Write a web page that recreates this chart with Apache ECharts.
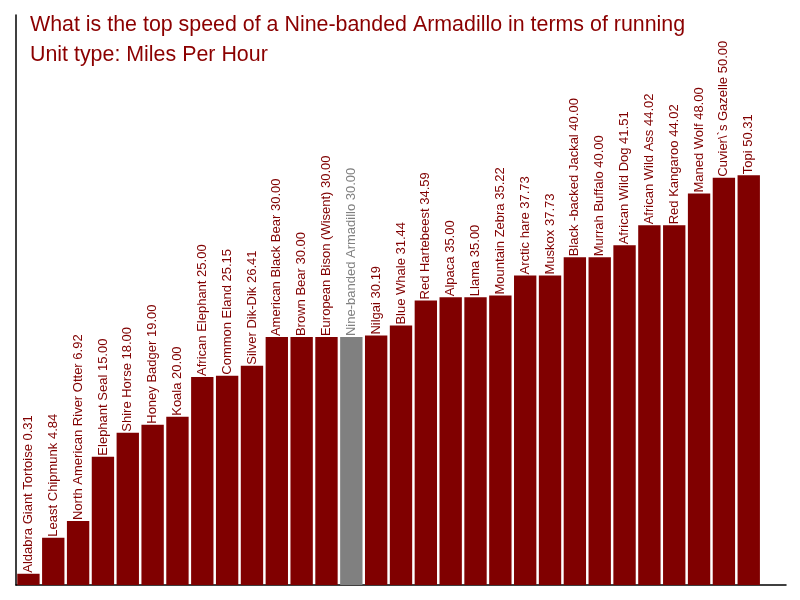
<!DOCTYPE html>
<html>
<head>
<meta charset="utf-8">
<script src="https://cdn.jsdelivr.net/npm/echarts@6/dist/echarts.min.js"></script>
<style>
  html, body { margin: 0; padding: 0; background: #fff; }
  #chart { width: 800px; height: 600px; }
</style>
</head>
<body>
<div id="chart"></div>
<script>
// animals, in the order they are drawn
var animals = [
    'Aldabra Giant Tortoise', 'Least Chipmunk', 'North American River Otter', 'Elephant Seal',
    'Shire Horse', 'Honey Badger', 'Koala', 'African Elephant', 'Common Eland', 'Silver Dik-Dik',
    'American Black Bear', 'Brown Bear', 'European Bison (Wisent)', 'Nine-banded Armadillo',
    'Nilgai', 'Blue Whale', 'Red Hartebeest', 'Alpaca', 'Llama', 'Mountain Zebra', 'Arctic hare',
    'Muskox', 'Black -backed Jackal', 'Murrah Buffalo', 'African Wild Dog', 'African Wild Ass',
    'Red Kangaroo', 'Maned Wolf', 'Cuvier\\`s Gazelle', 'Topi'
];
// top speed, miles per hour
var speeds = [
    0.31, 4.84, 6.92, 15.00, 18.00, 19.00, 20.00, 25.00, 25.15, 26.41,
    30.00, 30.00, 30.00, 30.00, 30.19, 31.44, 34.59, 35.00, 35.00, 35.22,
    37.73, 37.73, 40.00, 40.00, 41.51, 44.02, 44.02, 48.00, 50.00, 50.31
];
var highlighted = 'Nine-banded Armadillo';

var barColor = '#800000';
var highlightColor = '#808080';

var barData = [];
for (var i = 0; i < animals.length; i++) {
    var isHighlight = animals[i] == highlighted;
    barData.push({
        value: speeds[i],
        itemStyle: { color: isHighlight ? highlightColor : barColor },
        label: { color: isHighlight ? highlightColor : barColor }
    });
}

var chart = echarts.init(document.getElementById('chart'));
chart.setOption({
    animation: false,
    title: {
        text: 'What is the top speed of a Nine-banded Armadillo in terms of running\nUnit type: Miles Per Hour',
        left: 25,
        top: 5,
        textStyle: {
            fontFamily: 'Liberation Sans, Arial, sans-serif',
            fontSize: 21.4,
            fontWeight: 'normal',
            lineHeight: 30,
            color: '#8B0000'
        }
    },
    grid: { left: 16, right: 14, top: 15, bottom: 15 },
    xAxis: {
        type: 'category',
        // one empty slot on the right, the axis runs past the last bar
        data: animals.concat(['']),
        axisLine: { onZero: false, lineStyle: { color: '#000', width: 1.5 } },
        axisTick: { show: false },
        axisLabel: { show: false }
    },
    yAxis: {
        type: 'value',
        min: -1.1,
        max: 70.4,
        startValue: -1.1,
        axisLine: { show: true, lineStyle: { color: '#000', width: 1.5 } },
        axisTick: { show: false },
        axisLabel: { show: false },
        splitLine: { show: false }
    },
    series: [{
        type: 'bar',
        data: barData,
        barCategoryGap: '10%',
        label: {
            show: true,
            position: 'top',
            distance: 1,
            rotate: 90,
            align: 'left',
            verticalAlign: 'middle',
            fontFamily: 'Liberation Sans, Arial, sans-serif',
            fontSize: 13,
            formatter: function(p) {
                return p.name + ' ' + p.value.toFixed(2);
            }
        }
    }]
});
</script>
</body>
</html>
